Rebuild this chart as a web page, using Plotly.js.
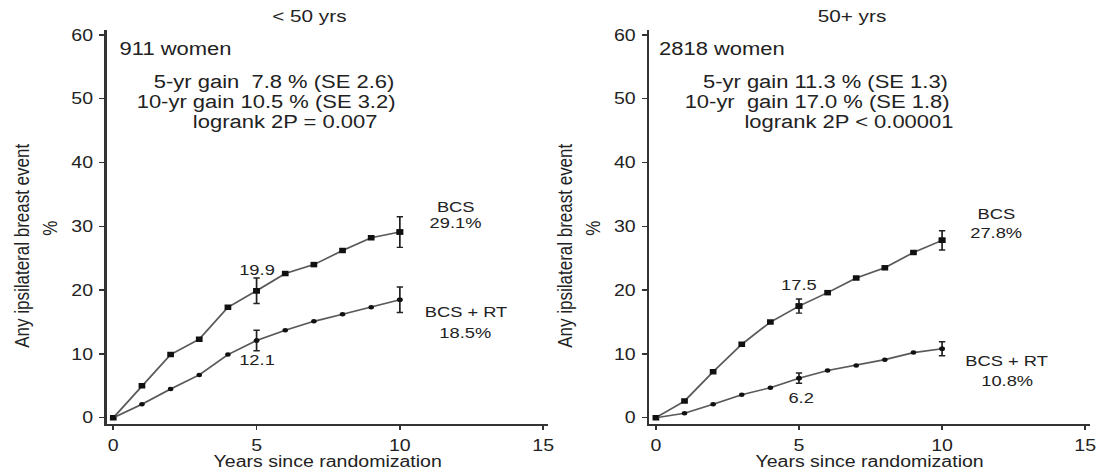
<!DOCTYPE html>
<html>
<head>
<meta charset="utf-8">
<script src="https://cdn.plot.ly/plotly-3.0.1.min.js"></script>
<style>
  html, body { margin: 0; padding: 0; background: #fff; overflow: hidden; width: 1102px; height: 476px; }
  #wrap { width: 903px; height: 476px; transform-origin: 0 0; transform: scaleX(1.2204); }
</style>
</head>
<body>
<div id="wrap"><div id="chart"></div></div>
<script>
// ---- data ----
const years = [0, 1, 2, 3, 4, 5, 6, 7, 8, 9, 10];
const youngBCS   = [0, 5.0, 9.9, 12.3, 17.3, 19.9, 22.6, 24.0, 26.2, 28.2, 29.1];
const youngBCSRT = [0, 2.1, 4.5, 6.7, 9.9, 12.1, 13.7, 15.1, 16.2, 17.3, 18.5];
const oldBCS     = [0, 2.6, 7.2, 11.5, 15.0, 17.5, 19.6, 21.9, 23.5, 25.9, 27.8];
const oldBCSRT   = [0, 0.7, 2.1, 3.6, 4.7, 6.2, 7.4, 8.2, 9.1, 10.2, 10.8];

const seYears      = [5, 10];
const youngBCSse   = [2.0, 2.4];
const youngBCSRTse = [1.6, 2.0];
const oldBCSse     = [1.1, 1.5];
const oldBCSRTse   = [0.8, 1.1];

const xTicks = [0, 5, 10, 15];
const yTicks = [0, 10, 20, 30, 40, 50, 60];

const panelTitles = ['&lt; 50 yrs', '50+ yrs'];
const nWomen = ['911 women', '2818 women'];
const gain5  = ['5-yr gain\u00A0\u00A07.8 % (SE 2.6)', '5-yr gain 11.3 % (SE 1.3)'];
const gain10 = ['10-yr gain 10.5 % (SE 3.2)', '10-yr\u00A0\u00A0gain 17.0 % (SE 1.8)'];
const logrank = ['logrank 2P = 0.007', 'logrank 2P &lt; 0.00001'];
const yTitle = 'Any ipsilateral breast event';
const xTitle = 'Years since randomization';
const armNames = ['BCS', 'BCS + RT'];

// ---- styling ----
const FONT = 'Liberation Sans, Arial, Helvetica, sans-serif';
const TXT = '#222';
const LINE = '#5a5a5a';
const W = 1102;

function pick(series, xs) { return xs.map(t => series[years.indexOf(t)]); }

function lineTrace(y, sym, size, xa, ya) {
  return { x: years, y: y, type: 'scatter', mode: 'lines+markers', xaxis: xa, yaxis: ya,
    line: { color: LINE, width: 1.6 },
    marker: { symbol: sym, size: size, color: '#111' }, hoverinfo: 'skip', showlegend: false };
}
function errTrace(y, se, sym, size, xa, ya) {
  return { x: seYears, y: pick(y, seYears), type: 'scatter', mode: 'markers', xaxis: xa, yaxis: ya,
    marker: { symbol: sym, size: size, color: '#111' },
    error_y: { type: 'data', array: se, visible: true, color: '#222', thickness: 1.4, width: 2.6 },
    hoverinfo: 'skip', showlegend: false };
}

const traces = [
  lineTrace(youngBCS, 'square', 5.5, 'x', 'y'),
  lineTrace(youngBCSRT, 'circle', 4.5, 'x', 'y'),
  errTrace(youngBCS, youngBCSse, 'square', 5.5, 'x', 'y'),
  errTrace(youngBCSRT, youngBCSRTse, 'circle', 4.5, 'x', 'y'),
  lineTrace(oldBCS, 'square', 5.5, 'x2', 'y2'),
  lineTrace(oldBCSRT, 'circle', 4.5, 'x2', 'y2'),
  errTrace(oldBCS, oldBCSse, 'square', 5.5, 'x2', 'y2'),
  errTrace(oldBCSRT, oldBCSRTse, 'circle', 4.5, 'x2', 'y2')
];

function xax(domain, anchor) {
  return { domain: domain, anchor: anchor, range: [-0.23, 15.17], tickmode: 'array', tickvals: xTicks,
    ticks: 'outside', ticklen: 4, tickwidth: 1.4, tickcolor: '#333', showline: true, linewidth: 2,
    linecolor: '#333', showgrid: false, zeroline: false, ticklabelstandoff: 2,
    tickfont: { family: FONT, size: 16, color: TXT }, fixedrange: true };
}
function yax(anchor) {
  return { domain: [(476 - 424) / 476, (476 - 30) / 476], anchor: anchor, range: [-0.99, 60.78],
    tickmode: 'array', tickvals: yTicks, ticks: 'outside', ticklen: 4, tickwidth: 1.4, tickcolor: '#333',
    showline: true, linewidth: 2, linecolor: '#333', showgrid: false, zeroline: false, ticklabelstandoff: 2,
    tickfont: { family: FONT, size: 16, color: TXT }, fixedrange: true };
}

const ann = [];
function A(o) { ann.push(Object.assign({ showarrow: false, font: { family: FONT, size: 18, color: TXT } }, o)); }
function P(px) { return px / W; }
function PY(py) { return (476 - py) / 476; }

// panel geometry in reference pixels
const panels = [
  { left: 106.7, right: 548, xa: 'x', ya: 'y', bcs: youngBCS, rt: youngBCSRT,
    womenX: 116.6, g5: 274, g10: 266, lr: 285, ytx: 23, pct: 51,
    lab: { top: [5, 23.3], bot: [5, 9.1], bcs: [11.95, 33.1, 30.6], rt: [12.3, 16.6, 13.4] } },
  { left: 649.3, right: 1090, xa: 'x2', ya: 'y2', bcs: oldBCS, rt: oldBCSRT,
    womenX: 657, g5: 825, g10: 817, lr: 849, ytx: 566, pct: 594,
    lab: { top: [4.98, 20.9], bot: [5.06, 3.2], bcs: [11.92, 32.0, 29.1], rt: [12.27, 8.9, 5.8] } }
];

panels.forEach((p, i) => {
  const c = (p.left + p.right) / 2;
  A({ text: panelTitles[i], xref: 'paper', yref: 'paper', x: P(c - 18), y: PY(16.5), xanchor: 'center', yanchor: 'middle', font: { family: FONT, size: 17, color: TXT } });
  A({ text: nWomen[i], xref: 'paper', yref: 'paper', x: P(p.womenX), y: PY(49), xanchor: 'left', yanchor: 'middle' });
  A({ text: gain5[i], xref: 'paper', yref: 'paper', x: P(p.g5), y: PY(82), xanchor: 'center', yanchor: 'middle' });
  A({ text: gain10[i], xref: 'paper', yref: 'paper', x: P(p.g10), y: PY(102), xanchor: 'center', yanchor: 'middle' });
  A({ text: logrank[i], xref: 'paper', yref: 'paper', x: P(p.lr), y: PY(122), xanchor: 'center', yanchor: 'middle' });
  A({ text: xTitle, xref: 'paper', yref: 'paper', x: P(c), y: PY(461), xanchor: 'center', yanchor: 'middle', font: { family: FONT, size: 16, color: TXT } });
  A({ text: yTitle, xref: 'paper', yref: 'paper', x: P(p.ytx), y: PY(246), textangle: -90, xanchor: 'center', yanchor: 'middle', font: { family: FONT, size: 17, color: TXT } });
  A({ text: '%', xref: 'paper', yref: 'paper', x: P(p.pct), y: PY(228), textangle: -90, xanchor: 'center', yanchor: 'middle', font: { family: FONT, size: 17, color: TXT } });
  const f15 = { family: FONT, size: 15, color: TXT };
  A({ text: p.bcs[5].toFixed(1), xref: p.xa, yref: p.ya, x: p.lab.top[0], y: p.lab.top[1], xanchor: 'center', yanchor: 'middle', font: f15 });
  A({ text: p.rt[5].toFixed(1), xref: p.xa, yref: p.ya, x: p.lab.bot[0], y: p.lab.bot[1], xanchor: 'center', yanchor: 'middle', font: f15 });
  A({ text: armNames[0], xref: p.xa, yref: p.ya, x: p.lab.bcs[0], y: p.lab.bcs[1], xanchor: 'center', yanchor: 'middle', font: f15 });
  A({ text: p.bcs[10].toFixed(1) + '%', xref: p.xa, yref: p.ya, x: p.lab.bcs[0], y: p.lab.bcs[2], xanchor: 'center', yanchor: 'middle', font: f15 });
  A({ text: armNames[1], xref: p.xa, yref: p.ya, x: p.lab.rt[0], y: p.lab.rt[1], xanchor: 'center', yanchor: 'middle', font: f15 });
  A({ text: p.rt[10].toFixed(1) + '%', xref: p.xa, yref: p.ya, x: p.lab.rt[0], y: p.lab.rt[2], xanchor: 'center', yanchor: 'middle', font: f15 });
});

const layout = {
  width: 903, height: 476, autosize: false,
  margin: { l: 0, r: 0, t: 0, b: 0, pad: 0 },
  paper_bgcolor: '#fff', plot_bgcolor: '#fff',
  font: { family: FONT, color: TXT },
  showlegend: false,
  xaxis: xax([P(106.7), P(548)], 'y'),
  yaxis: yax('x'),
  xaxis2: xax([P(649.3), P(1090)], 'y2'),
  yaxis2: yax('x2'),
  annotations: ann
};

Plotly.newPlot('chart', traces, layout, { staticPlot: true, displayModeBar: false });
</script>
</body>
</html>
